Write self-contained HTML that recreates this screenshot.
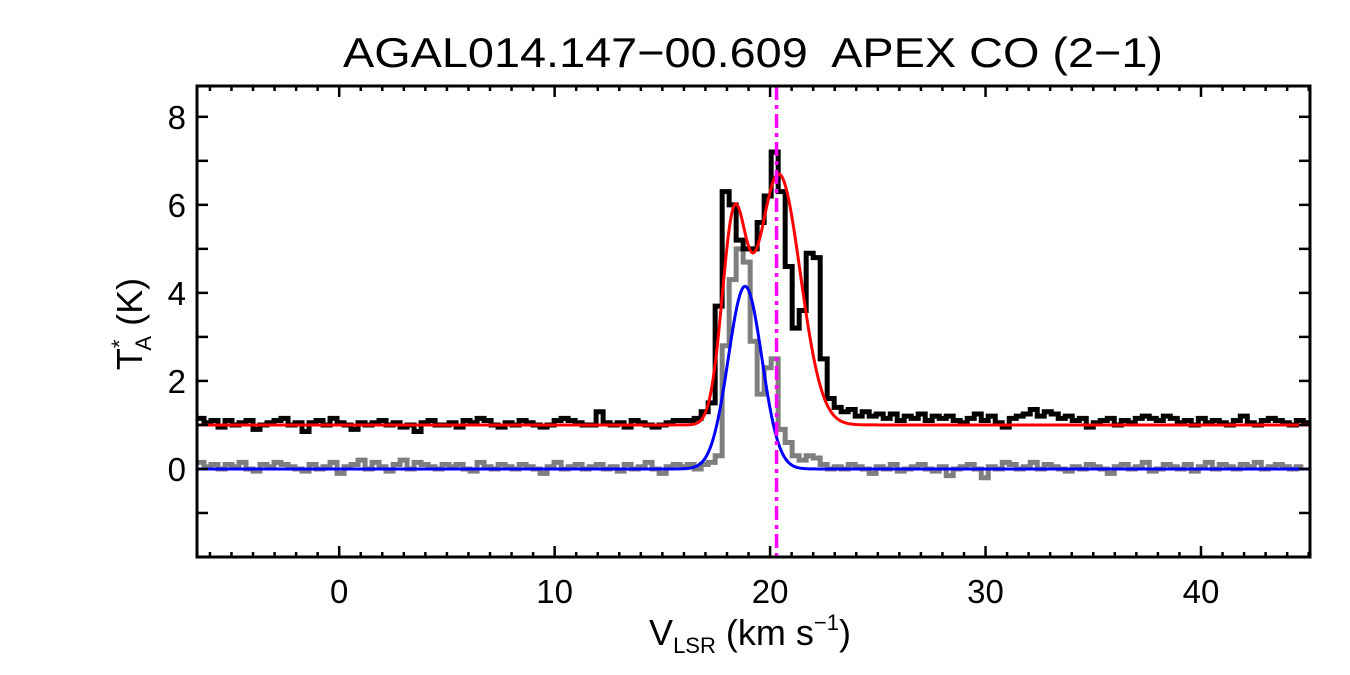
<!DOCTYPE html>
<html><head><meta charset="utf-8"><style>
html,body{margin:0;padding:0;background:#fff;}
svg{display:block;font-family:"Liberation Sans",Arial,sans-serif;}
</style></head><body>
<svg id="chart" width="1350" height="675" viewBox="0 0 1350 675" xmlns="http://www.w3.org/2000/svg">
<text x="343" y="67" font-size="42" textLength="820" lengthAdjust="spacingAndGlyphs" style="white-space:pre">AGAL014.147−00.609  APEX CO (2−1)</text>
<g id="plot"></g>
<g id="axes"></g>
<text x="750" y="645" font-size="36" text-anchor="middle">V<tspan font-size="22" dy="8">LSR</tspan><tspan dy="-8"> (km s</tspan><tspan font-size="22" dy="-15">−1</tspan><tspan dy="15">)</tspan></text>
<text transform="translate(142,324) rotate(-90)" font-size="36" text-anchor="middle">T<tspan font-size="22" dy="-15">*</tspan><tspan font-size="22" dx="-11" dy="24">A</tspan><tspan dy="-9"> (K)</tspan></text>
</svg>
<script>
const v0 = -6.6;
const dv = 0.325;
const blackSpec = [
1.15,1.05,1.1,0.95,1.1,1.0,1.05,1.1,0.9,1.0,1.05,1.1,1.15,1.0,1.05,0.85,1.05,1.1,1.0,1.15,1.05,1.0,0.9,1.05,1.0,1.05,1.1,1.0,1.05,0.95,1.0,0.85,1.05,1.1,1.0,1.0,1.05,0.95,1.1,1.05,1.15,1.1,1.0,0.95,1.05,1.0,1.1,1.05,1.0,0.95,1.0,1.1,1.15,1.1,1.05,1.0,1.0,1.3,1.05,1.0,1.05,0.95,1.1,1.05,1.0,0.95,1.0,1.05,1.1,
1.1,1.1,1.15,1.3,1.5,3.7,6.3,6.0,5.2,5.0,5.0,5.6,6.2,7.2,6.3,4.6,3.2,3.6,4.9,4.8,2.5,1.6,1.4,1.3,1.35,1.2,
1.3,1.2,1.25,1.15,1.25,1.1,1.2,1.15,1.25,1.1,1.2,1.15,1.2,1.1,1.05,1.15,1.25,1.1,1.2,1.05,0.95,1.15,1.2,1.25,1.35,1.2,1.3,1.25,1.15,1.2,1.1,1.15,0.95,1.05,1.1,1.15,1.0,1.1,1.05,1.15,1.2,1.15,1.1,1.2,1.15,1.05,1.1,1.0,1.15,1.05,1.1,1.05,1.0,1.1,1.2,1.05,1.0,1.1,1.15,1.1,1.05,1.0,1.1,1.05,1.05];
const graySpec = [
0.15,0.05,0.1,0.0,0.1,0.05,0.15,0.0,-0.05,0.1,0.05,0.15,0.1,0.05,0.0,-0.05,0.1,0.0,0.05,0.15,-0.1,0.05,0.1,0.2,0.0,0.15,0.05,-0.05,0.1,0.2,0.0,0.15,0.1,0.05,0.0,0.1,0.05,0.1,0.0,-0.05,0.15,0.05,0.0,0.1,0.05,0.0,0.1,0.05,0.0,-0.1,0.05,0.15,0.0,0.05,0.1,0.0,0.05,0.1,0.0,0.05,-0.05,0.1,0.0,0.05,0.15,0.0,-0.1,0.05,0.1,
0.05,0.1,0.0,0.1,0.15,0.3,2.8,4.3,5.0,4.7,2.9,1.7,2.3,2.5,0.9,0.6,0.3,0.2,0.3,0.25,0.1,0.0,
0.05,0.0,0.1,0.05,0.0,-0.1,0.05,0.0,0.1,-0.05,0.0,0.05,0.1,0.0,-0.05,0.05,-0.15,0.0,0.05,0.1,0.0,-0.2,0.05,0.0,0.15,0.1,0.0,0.05,0.15,0.0,0.1,0.05,0.0,-0.05,0.05,0.0,0.1,0.05,0.0,-0.1,0.05,0.1,0.0,0.05,0.15,-0.05,0.0,0.1,0.05,0.0,0.1,-0.05,0.05,0.15,0.0,0.1,0.05,0.0,0.1,0.05,0.15,0.0,0.05,0.1,0.05,0.0,0.05];
const redBase = [1.0];
const redCenters = [18.3, 20.4];
const redAmps = [4.32, 5.7];
const redSigmas = [0.55, 1.0];
const blueCenters = [18.84];
const blueAmps = [4.15];
const blueSigmas = [0.78];
const markerVel = [20.3];
const xTicks = [0,10,20,30,40];
const yTicks = [0,2,4,6,8];

const X0=197,X1=1310,Y0=86,Y1=557;
const xMin=-6.6,xMax=45.06,yMin=-2.0,yMax=8.7;
const sx=v=>X0+(v-xMin)/(xMax-xMin)*(X1-X0);
const sy=t=>Y1-(t-yMin)/(yMax-yMin)*(Y1-Y0);
const NS="http://www.w3.org/2000/svg";
const plot=document.getElementById('plot'), axes=document.getElementById('axes');
function mk(tag,attrs,parent){const e=document.createElementNS(NS,tag);for(const k in attrs)e.setAttribute(k,attrs[k]);parent.appendChild(e);return e;}
const cp=mk('clipPath',{id:'clip'},plot);mk('rect',{x:X0,y:Y0,width:X1-X0,height:Y1-Y0},cp);
function stepPath(arr){let d='';arr.forEach((t,i)=>{const a=sx(v0+i*dv),b=sx(v0+(i+1)*dv),y=sy(t);d+=(i?'L':'M')+a+','+y+'L'+b+','+y;});return d;}
function gaussPath(base,c,A,s){let d='';for(let v=xMin;v<=xMax;v+=0.05){let t=base;for(let k=0;k<c.length;k++)t+=A[k]*Math.exp(-Math.pow(v-c[k],2)/(2*s[k]*s[k]));d+=(d?'L':'M')+sx(v)+','+sy(t);}return d;}
let e;
e=mk('path',{d:stepPath(graySpec),fill:'none',stroke:'#7f7f7f','stroke-width':5,'clip-path':'url(#clip)'},plot);


e=mk('path',{d:stepPath(blackSpec),fill:'none',stroke:'#000','stroke-width':5,'clip-path':'url(#clip)'},plot);


e=mk('path',{d:gaussPath(redBase[0],redCenters,redAmps,redSigmas),fill:'none',stroke:'#ff0000','stroke-width':3,'clip-path':'url(#clip)'},plot);


e=mk('path',{d:gaussPath(0,blueCenters,blueAmps,blueSigmas),fill:'none',stroke:'#0000ff','stroke-width':3,'clip-path':'url(#clip)'},plot);


e=mk('line',{x1:sx(markerVel[0]),x2:sx(markerVel[0]),y1:Y0,y2:Y1,stroke:'#ff00ff','stroke-width':3.5,'stroke-dasharray':'14 5 4 5'},plot);


e=mk('rect',{x:X0,y:Y0,width:X1-X0,height:Y1-Y0,fill:'none',stroke:'#000','stroke-width':3},axes);


for(let v=Math.ceil(xMin);v<=xMax;v++){const maj=xTicks.includes(v);const L=maj?11:5;const x=sx(v);
 mk('line',{x1:x,x2:x,y1:Y1,y2:Y1-L,stroke:'#000','stroke-width':2.5},axes);
 mk('line',{x1:x,x2:x,y1:Y0,y2:Y0+L,stroke:'#000','stroke-width':2.5},axes);}
xTicks.forEach(v=>{e=mk('text',{x:sx(v),y:603,'font-size':33,'text-anchor':'middle'},axes);e.textContent=v;

});
for(let t=Math.ceil(yMin);t<=yMax;t++){const y=sy(t);
 mk('line',{x1:X0,x2:X0+11,y1:y,y2:y,stroke:'#000','stroke-width':2.5},axes);
 mk('line',{x1:X1,x2:X1-11,y1:y,y2:y,stroke:'#000','stroke-width':2.5},axes);}
yTicks.forEach(t=>{e=mk('text',{x:186,y:sy(t)+12,'font-size':33,'text-anchor':'end'},axes);e.textContent=t;

});
</script>
</body></html>
